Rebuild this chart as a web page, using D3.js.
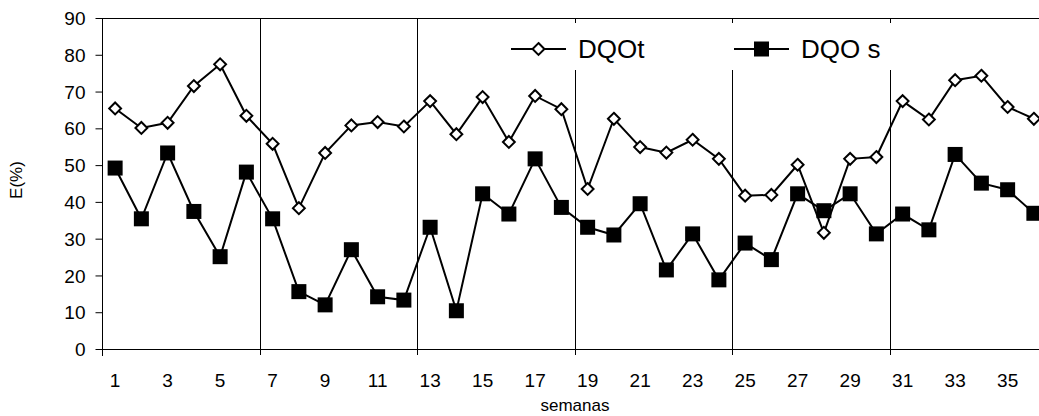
<!DOCTYPE html>
<html lang="en">
<head>
    <meta charset="UTF-8">
    <title>DQO removal chart</title>
    <script src="https://d3js.org/d3.v7.min.js"></script>
    <style>
        body { margin: 0; background: #fff; }
        svg text { font-family: "Liberation Sans", Arial, sans-serif; fill: #000; }
    </style>
</head>
<body>

<div id="chart"></div>

<script>
    // weeks (categories)
    var weeks = [1, 2, 3, 4, 5, 6, 7, 8, 9, 10, 11, 12, 13, 14, 15, 16, 17, 18,
                 19, 20, 21, 22, 23, 24, 25, 26, 27, 28, 29, 30, 31, 32, 33, 34, 35, 36];

    // E(%) values
    var dqot = [65.4, 60.1, 61.5, 71.5, 77.4, 63.4, 55.8, 38.3, 53.3, 60.8, 61.7, 60.5,
                67.4, 58.4, 68.5, 56.3, 68.8, 65.2, 43.5, 62.6, 54.9, 53.4, 56.9, 51.7,
                41.7, 41.9, 50.1, 31.6, 51.7, 52.2, 67.4, 62.4, 73.1, 74.3, 65.8, 62.6];
    var dqos = [49.2, 35.4, 53.3, 37.4, 25.1, 48.1, 35.4, 15.6, 12.0, 27.0, 14.2, 13.3,
                33.1, 10.4, 42.2, 36.7, 51.7, 38.5, 33.1, 31.0, 39.5, 21.5, 31.3, 18.8,
                28.8, 24.3, 42.2, 37.6, 42.2, 31.3, 36.7, 32.4, 52.9, 45.1, 43.3, 36.9];

    var yTicks = [0, 10, 20, 30, 40, 50, 60, 70, 80, 90];
    var xTickLabels = [1, 3, 5, 7, 9, 11, 13, 15, 17, 19, 21, 23, 25, 27, 29, 31, 33, 35];
    var groupEdges = [6, 12, 18, 24, 30]; // vertical separators after these weeks

    var W = 1039, H = 416;
    var plotL = 102, plotT = 18, plotB = 349, plotR = 1047;

    var svg = d3.select("#chart")
        .append("svg")
        .attr("width", W)
        .attr("height", H);

    var x = d3.scaleBand().domain(weeks).range([plotL, plotR]).padding(0);
    var y = d3.scaleLinear().domain([0, 90]).range([plotB, plotT]);

    // separators
    svg.selectAll(".sep")
        .data(groupEdges)
        .enter().append("line")
        .attr("class", "sep")
        .attr("x1", function (d) { return Math.round(x(d) + x.bandwidth()) + 0.5; })
        .attr("x2", function (d) { return Math.round(x(d) + x.bandwidth()) + 0.5; })
        .attr("y1", plotT)
        .attr("y2", plotB + 6)
        .attr("stroke", "#000")
        .attr("stroke-width", 1);

    // top border
    svg.append("line")
        .attr("x1", plotL).attr("x2", W)
        .attr("y1", plotT + 0.5).attr("y2", plotT + 0.5)
        .attr("stroke", "#000");

    // y axis
    var yAxis = svg.append("g")
        .attr("transform", "translate(" + (plotL + 0.5) + ",0)")
        .call(d3.axisLeft(y).tickValues(yTicks).tickSize(7).tickPadding(10));
    yAxis.selectAll("text").style("font-size", "19px").attr("dy", "0.35em");
    yAxis.select(".domain").attr("d", "M0," + (plotT + 0.5) + "V" + (plotB + 0.5));

    // x axis
    var xAxis = svg.append("g")
        .attr("transform", "translate(0," + (plotB + 0.5) + ")")
        .call(d3.axisBottom(x).tickValues(xTickLabels).tickSize(0).tickPadding(32));
    xAxis.selectAll("text").style("font-size", "19px").attr("dy", "0.3em");
    xAxis.select(".domain").attr("d", "M" + plotL + ",0H" + W);
    svg.append("line")
        .attr("x1", plotL + 0.5).attr("x2", plotL + 0.5)
        .attr("y1", plotB).attr("y2", plotB + 7)
        .attr("stroke", "#000");

    // axis titles
    svg.append("text")
        .attr("x", 575).attr("y", 411)
        .attr("text-anchor", "middle")
        .style("font-size", "17px")
        .text("semanas");

    svg.append("text")
        .attr("transform", "translate(22,180) rotate(-90)")
        .attr("text-anchor", "middle")
        .style("font-size", "17px")
        .text("E(%)");

    var cx = function (d, i) { return x(weeks[i]) + x.bandwidth() / 2; };
    var line = d3.line()
        .x(function (d, i) { return cx(d, i); })
        .y(function (d) { return y(d); });

    // DQO s series
    svg.append("path")
        .datum(dqos)
        .attr("d", line)
        .attr("fill", "none")
        .attr("stroke", "#000")
        .attr("stroke-width", 2);
    svg.selectAll(".sq")
        .data(dqos)
        .enter().append("rect")
        .attr("class", "sq")
        .attr("x", function (d, i) { return cx(d, i) - 7.5; })
        .attr("y", function (d) { return y(d) - 7.5; })
        .attr("width", 15)
        .attr("height", 15)
        .attr("fill", "#000");

    // DQOt series
    var diamond = d3.symbol().type(d3.symbolDiamond2).size(90);
    svg.append("path")
        .datum(dqot)
        .attr("d", line)
        .attr("fill", "none")
        .attr("stroke", "#000")
        .attr("stroke-width", 2);
    svg.selectAll(".dm")
        .data(dqot)
        .enter().append("path")
        .attr("class", "dm")
        .attr("d", diamond)
        .attr("transform", function (d, i) { return "translate(" + cx(d, i) + "," + y(d) + ")"; })
        .attr("fill", "#fff")
        .attr("stroke", "#000")
        .attr("stroke-width", 2);

    // legend
    var lg = svg.append("g");
    lg.append("rect")
        .attr("x", 498).attr("y", 23)
        .attr("width", 408).attr("height", 47)
        .attr("fill", "#fff");

    var legendItems = [
        { name: "DQOt", x0: 511, kind: "diamond" },
        { name: "DQO s", x0: 734, kind: "square" }
    ];
    legendItems.forEach(function (it) {
        var g = lg.append("g").attr("transform", "translate(" + it.x0 + ",49)");
        g.append("line").attr("x1", 0).attr("x2", 55)
            .attr("stroke", "#000").attr("stroke-width", 2);
        if (it.kind === "diamond") {
            g.append("path").attr("d", diamond)
                .attr("transform", "translate(27.5,0)")
                .attr("fill", "#fff").attr("stroke", "#000").attr("stroke-width", 2);
        } else {
            g.append("rect").attr("x", 20).attr("y", -7.5)
                .attr("width", 15).attr("height", 15).attr("fill", "#000");
        }
        g.append("text")
            .attr("x", 67).attr("dy", "0.36em")
            .style("font-size", "26px")
            .text(it.name);
    });
</script>

</body>
</html>
